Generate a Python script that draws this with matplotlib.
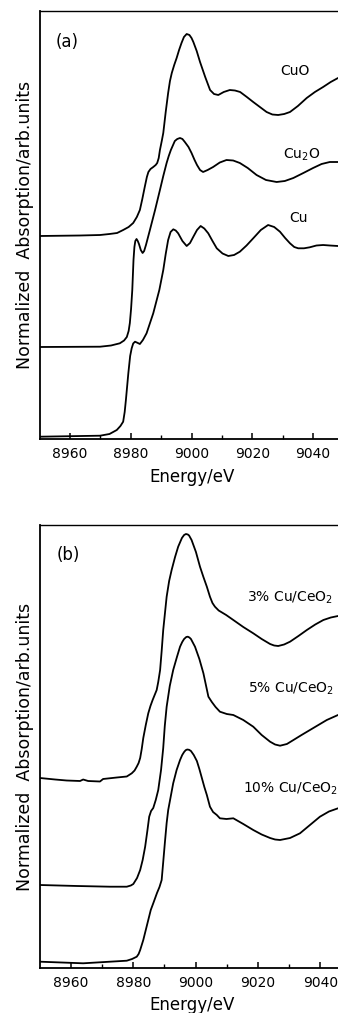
#!/usr/bin/env python3

import numpy as np
import matplotlib
matplotlib.use("Agg")
import matplotlib.pyplot as plt

##############################################################################
# DATA  (Cu K-edge XANES, energy in eV, normalized absorption + offset)
##############################################################################

# (a) reference compounds
cuo_e = [8950.1, 8963.3, 8969.9, 8973.0, 8975.5, 8977.5, 8979.3, 8980.8, 8982.0,
         8983.0, 8983.8, 8984.6, 8985.3, 8985.8, 8986.5, 8987.4, 8988.2, 8988.7,
         8989.2, 8989.6, 8990.2, 8990.7, 8991.5, 8992.3, 8992.9, 8993.5, 8994.3,
         8995.1, 8995.9, 8996.7, 8997.5, 8998.4, 8999.3, 9000.0, 9000.6, 9001.7,
         9002.8, 9004.5, 9006.1, 9007.4, 9008.8, 9010.6, 9012.6, 9014.3, 9016.0,
         9018.2, 9020.3, 9022.5, 9024.7, 9026.6, 9028.5, 9030.5, 9032.4, 9035.0,
         9037.9, 9040.6, 9043.3, 9045.8, 9048.2]
cuo_mu = [2.03, 2.035, 2.04, 2.05, 2.06, 2.09, 2.12, 2.16, 2.22,
          2.29, 2.40, 2.52, 2.62, 2.67, 2.70, 2.72, 2.74, 2.76,
          2.81, 2.89, 2.98, 3.06, 3.27, 3.46, 3.58, 3.66, 3.74,
          3.81, 3.89, 3.96, 4.02, 4.05, 4.04, 4.01, 3.97, 3.88,
          3.77, 3.62, 3.49, 3.45, 3.44, 3.47, 3.49, 3.485, 3.47,
          3.42, 3.37, 3.32, 3.27, 3.245, 3.24, 3.25, 3.27, 3.33,
          3.41, 3.47, 3.52, 3.57, 3.61]

cu2o_e = [8950.1, 8969.9, 8973.5, 8976.4, 8977.8, 8978.7, 8979.3, 8979.7, 8980.1,
          8980.5, 8980.9, 8981.2, 8981.5, 8981.9, 8982.3, 8982.7, 8983.3, 8983.9,
          8984.4, 8985.0, 8986.3, 8988.0, 8989.6, 8990.7, 8991.8, 8992.5, 8993.2,
          8994.5, 8995.3, 8996.2, 8997.0, 8997.8, 8999.0, 9000.0, 9001.0, 9001.8,
          9002.8, 9003.8, 9005.3, 9007.1, 9009.3, 9011.5, 9013.7, 9015.9, 9018.5,
          9021.4, 9024.5, 9028.0, 9030.7, 9033.5, 9036.8, 9040.0, 9042.8, 9045.5,
          9048.2]
cu2o_mu = [0.92, 0.923, 0.935, 0.957, 0.985, 1.02, 1.08, 1.16, 1.30,
           1.49, 1.79, 1.92, 1.98, 2.00, 1.98, 1.95, 1.89, 1.86,
           1.88, 1.94, 2.09, 2.29, 2.49, 2.63, 2.76, 2.83, 2.89,
           2.98, 3.00, 3.01, 3.00, 2.97, 2.92, 2.86, 2.79, 2.74,
           2.69, 2.67, 2.69, 2.72, 2.765, 2.79, 2.785, 2.76, 2.71,
           2.64, 2.59, 2.57, 2.58, 2.61, 2.66, 2.71, 2.75, 2.77,
           2.77]

cu_e = [8950.1, 8969.9, 8973.0, 8975.4, 8976.6, 8977.5, 8978.0, 8978.4, 8979.2,
        8979.8, 8980.3, 8980.8, 8981.4, 8982.2, 8983.0, 8984.0, 8985.2, 8987.4,
        8989.4, 8990.7, 8991.5, 8992.3, 8993.1, 8994.0, 8994.8, 8995.6, 8997.0,
        8998.4, 8999.5, 9000.6, 9001.8, 9003.0, 9004.2, 9005.5, 9006.9, 9008.3,
        9010.2, 9012.1, 9014.0, 9015.9, 9018.1, 9020.3, 9022.8, 9025.2, 9027.2,
        9029.1, 9030.8, 9032.4, 9033.8, 9035.1, 9037.0, 9038.9, 9041.1, 9043.3,
        9045.5, 9048.2]
cu_mu = [0.023, 0.033, 0.05, 0.09, 0.13, 0.173, 0.27, 0.39, 0.657,
         0.83, 0.907, 0.955, 0.973, 0.962, 0.95, 0.99, 1.057, 1.257,
         1.49, 1.69, 1.85, 1.99, 2.07, 2.097, 2.085, 2.057, 1.98,
         1.93, 1.96, 2.023, 2.09, 2.13, 2.105, 2.057, 1.98, 1.907,
         1.855, 1.83, 1.84, 1.873, 1.935, 2.007, 2.09, 2.14, 2.12,
         2.073, 2.01, 1.957, 1.92, 1.907, 1.907, 1.917, 1.935, 1.94,
         1.935, 1.93]

# (b) Cu/CeO2 catalysts
cu3_e = [8950.05, 8954.9, 8958.6, 8962.9, 8963.9, 8965.5, 8969.3, 8970.3, 8974.7,
         8977.9, 8979.5, 8980.4, 8981.1, 8981.7, 8982.2, 8982.7, 8983.2, 8984.0,
         8984.8, 8985.5, 8986.2, 8987.5, 8988.0, 8988.6, 8989.1, 8989.6, 8990.7,
         8991.5, 8992.3, 8993.4, 8994.4, 8995.6, 8996.3, 8996.9, 8997.5, 8997.9,
         8998.7, 9000.1, 9001.4, 9002.5, 9003.6, 9004.6, 9005.4, 9006.2, 9007.4,
         9009.8, 9012.1, 9015.3, 9018.5, 9021.2, 9023.9, 9025.2, 9026.5, 9028.4,
         9030.3, 9033.0, 9035.7, 9038.4, 9041.0, 9043.4, 9045.7]
cu3_mu = [1.90, 1.885, 1.875, 1.87, 1.885, 1.87, 1.865, 1.89, 1.905,
          1.915, 1.947, 1.975, 2.013, 2.05, 2.10, 2.19, 2.30, 2.43,
          2.547, 2.62, 2.68, 2.78, 2.86, 2.98, 3.17, 3.38, 3.713,
          3.87, 3.98, 4.11, 4.213, 4.30, 4.33, 4.34, 4.335, 4.325,
          4.28, 4.16, 4.013, 3.91, 3.813, 3.713, 3.65, 3.613, 3.575,
          3.53, 3.48, 3.41, 3.347, 3.29, 3.24, 3.225, 3.22, 3.235,
          3.263, 3.32, 3.38, 3.435, 3.48, 3.505, 3.52]

cu5_e = [8950.05, 8962.0, 8972.5, 8977.9, 8979.2, 8980.0, 8981.2, 8982.2, 8983.0,
         8983.8, 8984.5, 8985.1, 8985.7, 8986.4, 8987.2, 8988.0, 8988.9, 8989.6,
         8990.1, 8990.7, 8991.7, 8992.8, 8994.0, 8995.0, 8995.7, 8996.3, 8997.0,
         8997.5, 8998.0, 8998.5, 8999.8, 9001.2, 9002.5, 9003.3, 9004.1, 9005.2,
         9006.4, 9007.8, 9010.0, 9012.1, 9015.3, 9018.5, 9021.2, 9023.9, 9025.5,
         9027.1, 9029.3, 9031.4, 9034.0, 9036.7, 9039.4, 9042.1, 9045.7]
cu5_mu = [0.83, 0.82, 0.813, 0.813, 0.825, 0.84, 0.90, 0.98, 1.08,
          1.213, 1.37, 1.513, 1.57, 1.60, 1.68, 1.78, 1.98, 2.20,
          2.42, 2.613, 2.82, 2.98, 3.11, 3.213, 3.26, 3.29, 3.31,
          3.313, 3.305, 3.29, 3.213, 3.09, 2.947, 2.83, 2.713, 2.66,
          2.61, 2.563, 2.54, 2.53, 2.48, 2.413, 2.33, 2.263, 2.235,
          2.223, 2.24, 2.28, 2.33, 2.38, 2.43, 2.48, 2.53]

cu10_e = [8950.05, 8963.9, 8972.5, 8977.9, 8979.6, 8981.1, 8981.7, 8982.2, 8983.2,
          8984.0, 8984.8, 8985.6, 8986.4, 8987.6, 8988.4, 8989.1, 8989.6, 8990.15,
          8990.7, 8991.2, 8991.8, 8992.8, 8993.9, 8995.0, 8995.7, 8996.3, 8996.8,
          8997.3, 8997.9, 8998.5, 8999.4, 9000.4, 9001.2, 9002.0, 9002.8, 9003.6,
          9004.6, 9005.6, 9006.8, 9007.8, 9009.9, 9012.1, 9015.3, 9018.5, 9021.2,
          9023.9, 9025.5, 9027.1, 9030.3, 9033.5, 9036.7, 9039.9, 9042.8, 9045.7]
cu10_mu = [0.063, 0.047, 0.063, 0.073, 0.09, 0.113, 0.14, 0.18, 0.28,
           0.38, 0.48, 0.58, 0.647, 0.75, 0.81, 0.88, 1.06, 1.26,
           1.45, 1.58, 1.68, 1.847, 1.98, 2.08, 2.13, 2.16, 2.178,
           2.185, 2.182, 2.17, 2.13, 2.07, 1.99, 1.90, 1.81, 1.73,
           1.613, 1.56, 1.53, 1.497, 1.49, 1.497, 1.44, 1.38, 1.335,
           1.30, 1.285, 1.28, 1.30, 1.347, 1.43, 1.513, 1.565, 1.597]

ticks_major = [8960, 8980, 9000, 9020, 9040]
ticks_minor = [8970, 8990, 9010, 9030]

##############################################################################
# PLOT
##############################################################################

def style_axis(ax, xlim, ylim, xlab_y):
    ax.set_xlim(*xlim)
    ax.set_ylim(*ylim)
    ax.set_xticks(ticks_major)
    ax.set_xticks(ticks_minor, minor=True)
    ax.set_yticks([])
    ax.tick_params(axis="x", which="major", direction="in", length=4.5,
                   width=1.1, pad=5.5, labelsize=10)
    ax.tick_params(axis="x", which="minor", direction="in", length=3, width=1.0)
    ax.spines["right"].set_visible(False)
    for s in ("left", "bottom"):
        ax.spines[s].set_linewidth(1.3)
    ax.spines["top"].set_linewidth(1.0)
    ax.set_xlabel("Energy/eV", fontsize=12, va="center")
    ax.xaxis.set_label_coords(0.51, xlab_y)
    ax.set_ylabel("Normalized  Absorption/arb.units", fontsize=12.5, va="center")
    ax.yaxis.set_label_coords(-0.05, 0.5)


def draw(ax, e, mu):
    ax.plot(e, mu, color="black", lw=1.3, solid_joinstyle="round",
            solid_capstyle="round")


fig = plt.figure(figsize=(3.38, 10.13), dpi=100)

W, H = 338.0, 1013.0
ax_a = fig.add_axes([39.6 / W, 1 - 439 / H, 1 - 39.6 / W, 428 / H])
ax_b = fig.add_axes([39.85 / W, 1 - 968 / H, 1 - 39.85 / W, 443 / H])

draw(ax_a, cuo_e, cuo_mu)
draw(ax_a, cu2o_e, cu2o_mu)
draw(ax_a, cu_e, cu_mu)
style_axis(ax_a, (8950, 9048.2), (0, 4.28), -37.7 / 428)

ax_a.text(8958.9, 3.97, "(a)", fontsize=12, ha="center", va="center")
ax_a.text(9034.0, 3.68, "CuO", fontsize=10, ha="center", va="center")
ax_a.text(9036.2, 2.84, "Cu$_2$O", fontsize=10, ha="center", va="center")
ax_a.text(9035.1, 2.21, "Cu", fontsize=10, ha="center", va="center")

draw(ax_b, cu3_e, cu3_mu)
draw(ax_b, cu5_e, cu5_mu)
draw(ax_b, cu10_e, cu10_mu)
style_axis(ax_b, (8950, 9045.7), (0, 4.43), -37 / 443)

ax_b.text(8959.1, 4.13, "(b)", fontsize=12, ha="center", va="center")
ax_b.text(9016.4, 3.70, "3% Cu/CeO$_2$", fontsize=10, ha="left", va="center")
ax_b.text(9016.9, 2.79, "5% Cu/CeO$_2$", fontsize=10, ha="left", va="center")
ax_b.text(9015.3, 1.79, "10% Cu/CeO$_2$", fontsize=10, ha="left", va="center")

fig.savefig("out.png", dpi=100)
